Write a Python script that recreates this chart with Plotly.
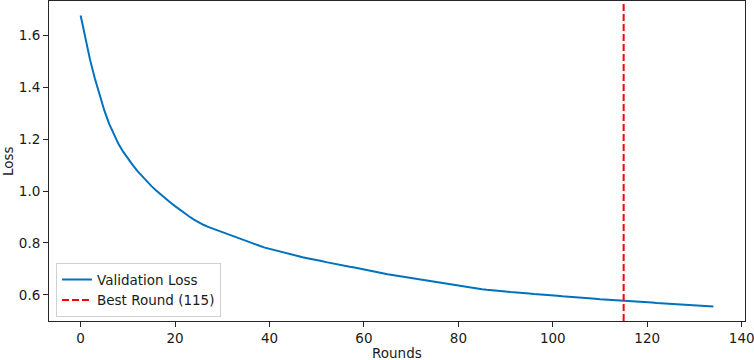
import plotly.graph_objects as go

rounds = list(range(135))
val_loss = [
    1.677, 1.588, 1.506, 1.435, 1.370, 1.312, 1.261, 1.218, 1.182, 1.152,
    1.125, 1.101, 1.078, 1.057, 1.037, 1.019, 1.002, 0.986, 0.971, 0.956,
    0.942, 0.928, 0.915, 0.902, 0.890, 0.879, 0.870, 0.862, 0.855, 0.848,
    0.842, 0.835, 0.828, 0.821, 0.814, 0.807, 0.800, 0.794, 0.788, 0.782,
    0.777, 0.772, 0.767, 0.762, 0.757, 0.753, 0.749, 0.745, 0.741, 0.738,
    0.734, 0.730, 0.726, 0.722, 0.718, 0.715, 0.711, 0.708, 0.705, 0.701,
    0.698, 0.694, 0.690, 0.686, 0.683, 0.679, 0.676, 0.673, 0.670, 0.667,
    0.664, 0.661, 0.658, 0.655, 0.652, 0.649, 0.646, 0.643, 0.640, 0.637,
    0.634, 0.631, 0.628, 0.626, 0.623, 0.621, 0.619, 0.618, 0.616, 0.614,
    0.613, 0.611, 0.610, 0.608, 0.607, 0.605, 0.603, 0.602, 0.600, 0.599,
    0.597, 0.596, 0.594, 0.593, 0.592, 0.591, 0.589, 0.588, 0.586, 0.585,
    0.583, 0.582, 0.581, 0.580, 0.578, 0.577, 0.576, 0.575, 0.574, 0.572,
    0.571, 0.570, 0.568, 0.567, 0.566, 0.565, 0.564, 0.562, 0.561, 0.559,
    0.558, 0.557, 0.556, 0.556, 0.555,
]
best_round = 115
x_ticks = [0, 20, 40, 60, 80, 100, 120, 140]
y_ticks = [0.6, 0.8, 1.0, 1.2, 1.4, 1.6]
x_title = "Rounds"
y_title = "Loss"

# matplotlib-like 5% margins
xmin, xmax = min(rounds), max(rounds)
ymin, ymax = min(val_loss), max(val_loss)
xpad = (xmax - xmin) * 0.05
ypad = (ymax - ymin) * 0.05
xr = [xmin - xpad, xmax + xpad]
yr = [ymin - ypad, ymax + ypad]

FONT = "DejaVu Sans"
TXT = "#1a1a1a"
W, H = 754, 360
ML, MR, MT, MB = 49, 9, 1, 39
PW, PH = W - ML - MR, H - MT - MB

fig = go.Figure()
fig.add_trace(go.Scatter(
    x=rounds, y=val_loss, mode="lines", name="Validation Loss",
    line=dict(color="#0072BD", width=2),
))
fig.add_trace(go.Scatter(
    x=[best_round, best_round], y=yr, mode="lines",
    name=f"Best Round ({best_round})",
    line=dict(color="#ff0000", width=2, dash="7px,3px"),
))

axis_common = dict(
    showgrid=False, zeroline=False, showline=True, linecolor="#262626",
    linewidth=1, mirror=True, ticks="outside", ticklen=5, tickwidth=1,
    tickcolor="#262626", tickfont=dict(family=FONT, size=13.5, color=TXT),
    automargin=False, ticklabeloverflow="allow",
)
fig.update_xaxes(
    range=xr, tickvals=x_ticks, ticktext=[str(t) for t in x_ticks],
    **axis_common,
)
fig.update_yaxes(
    range=yr, tickvals=y_ticks, ticktext=[f"{t:.1f}" for t in y_ticks],
    **axis_common,
)
fig.add_annotation(
    text=x_title, xref="paper", yref="paper",
    x=0.5, y=-(353 - (MT + PH)) / PH, xanchor="center", yanchor="middle",
    showarrow=False, font=dict(family=FONT, size=13.5, color=TXT),
)
fig.add_annotation(
    text=y_title, xref="paper", yref="paper", textangle=-90,
    x=(8 - ML) / PW, y=0.5, xanchor="center", yanchor="middle",
    showarrow=False, font=dict(family=FONT, size=13.5, color=TXT),
)
fig.update_layout(
    width=W, height=H,
    margin=dict(l=ML, r=MR, t=MT, b=MB),
    paper_bgcolor="white", plot_bgcolor="white",
    font=dict(family=FONT, size=13.5, color=TXT),
    showlegend=True,
    legend=dict(
        x=0.01, y=0.012, xanchor="left", yanchor="bottom",
        bgcolor="rgba(255,255,255,0.8)", bordercolor="#d0d0d0", borderwidth=1,
        font=dict(family=FONT, size=13.5, color=TXT),
        tracegroupgap=0, itemwidth=30,
    ),
)
fig.write_html(
    "out.html",
    config={"displayModeBar": False},
    post_script="document.body.style.margin='0';document.body.style.padding='0';",
)
